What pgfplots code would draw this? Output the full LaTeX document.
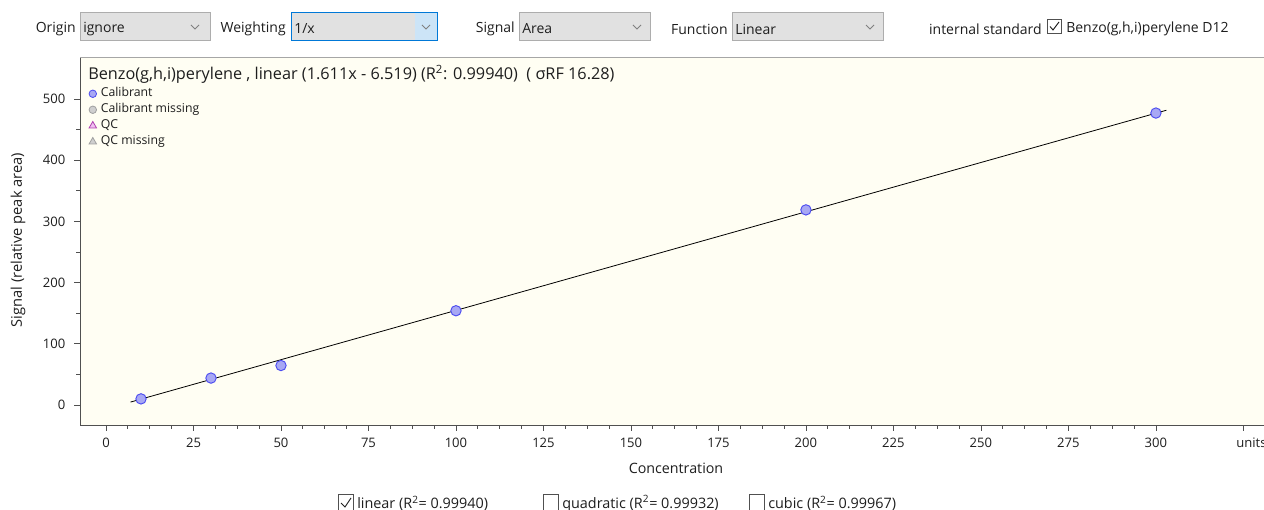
\documentclass[border=0pt]{standalone}
\usepackage{pgfplots}
\pgfplotsset{compat=1.18}
\usepackage{fontspec}
\setmainfont{Open Sans}
\definecolor{plotbg}{HTML}{FFFEF3}
\definecolor{axcol}{HTML}{505050}
\definecolor{txt}{HTML}{1E1E1E}
\definecolor{boxfill}{HTML}{E1E1E1}
\definecolor{boxdraw}{HTML}{ADADAD}
\definecolor{focdraw}{HTML}{0078D7}
\definecolor{focfill}{HTML}{CCE4F7}
\definecolor{calfill}{HTML}{A8A8F4}
\definecolor{caldraw}{HTML}{4C4CF0}
\definecolor{misfill}{HTML}{CFCFCF}
\definecolor{misdraw}{HTML}{A0A0A0}
\definecolor{qcfill}{HTML}{F0C0F0}
\definecolor{qcdraw}{HTML}{B040B0}
\pgfplotstableread{
x y
10 10
30 44
50 64.5
100 154
200 318.8
300 477
}\calib
\pgfplotstableread{
x y
7 4.758
303 481.614
}\fitline
\begin{document}
\begin{tikzpicture}[x=0.75pt,y=0.75pt]
\useasboundingbox (0,0) rectangle (1264,510);
\fill[white] (0,0) rectangle (1264,510);
% ---- top controls ----
\begin{scope}[font=\fontsize{10.5pt}{12pt}\selectfont, text=txt]
\node[anchor=east,inner sep=0] at (76,481) {Origin};
\draw[boxdraw,fill=boxfill] (80.5,469.5) rectangle (210.5,497.5);
\node[anchor=west,inner sep=0] at (83,481) {ignore};
\draw[gray,line width=0.6pt] (191,485) -- (195,481) -- (199,485);
\node[anchor=east,inner sep=0] at (286,481) {Weighting};
\draw[focdraw,fill=boxfill] (291.5,469.5) rectangle (437.5,497.5);
\fill[focfill] (415,470) rectangle (437,497);
\node[anchor=west,inner sep=0] at (294,481) {1/x};
\draw[gray,line width=0.6pt] (422,485) -- (426,481) -- (430,485);
\node[anchor=east,inner sep=0] at (515,481) {Signal};
\draw[boxdraw,fill=boxfill] (519.5,469.5) rectangle (650.5,497.5);
\node[anchor=west,inner sep=0] at (522,481) {Area};
\draw[gray,line width=0.6pt] (633,485) -- (637,481) -- (641,485);
\node[anchor=east,inner sep=0] at (728,481) {Function};
\draw[boxdraw,fill=boxfill] (732.5,469.5) rectangle (883.5,497.5);
\node[anchor=west,inner sep=0] at (735,481) {Linear};
\draw[gray,line width=0.6pt] (866,485) -- (870,481) -- (874,485);
\node[anchor=east,inner sep=0] at (1042,481) {internal standard};
\draw[axcol,fill=white] (1047.5,476.5) rectangle (1061.5,490.5);
\draw[txt,line width=0.7pt] (1050,483.5) -- (1053,480) -- (1059,488);
\node[anchor=west,inner sep=0] at (1066,481) {Benzo(g,h,i)perylene D12};
% bottom checkboxes
\draw[axcol,fill=white] (338.5,-1) rectangle (353.5,15.5);
\draw[txt,line width=0.7pt] (341,7) -- (345,3) -- (351,12);
\node[anchor=west,inner sep=0,font=\fontsize{10.8pt}{12pt}\selectfont] at (357,6.5) {linear (R\textsuperscript{2}= 0.99940)};
\draw[axcol,fill=white] (543.5,-1) rectangle (558.5,15.5);
\node[anchor=west,inner sep=0,font=\fontsize{10.8pt}{12pt}\selectfont] at (562,6.5) {quadratic (R\textsuperscript{2}= 0.99932)};
\draw[axcol,fill=white] (749.5,-1) rectangle (764.5,15.5);
\node[anchor=west,inner sep=0,font=\fontsize{10.8pt}{12pt}\selectfont] at (768,6.5) {cubic (R\textsuperscript{2}= 0.99967)};
\end{scope}
% ---- axis ----
\begin{axis}[
  at={(60pt,63.75pt)}, anchor=south west,
  scale only axis, width=892.5pt, height=276pt,
  xmin=-7.43, xmax=332.6, ymin=-32.68, ymax=568.6,
  axis background/.style={fill=plotbg},
  axis line style={draw=none},
  xtick={0,25,...,300}, xticklabels={0,25,50,75,100,125,150,175,200,225,250,275,300},
  extra x ticks={325}, extra x tick labels={units},
  extra x tick style={xticklabel style={xshift=6pt}},
  ytick={0,100,...,500},
  minor x tick num=3, minor y tick num=1,
  tick align=outside, xtick pos=bottom, ytick pos=left,
  major tick length=4.5pt, minor tick length=3pt,
  tick style={axcol, line width=0.6pt},
  /pgf/number format/assume math mode=true,
  ticklabel style={font=\fontsize{9.8pt}{11pt}\selectfont, text=txt},
  xticklabel style={yshift=-2pt},
  yticklabel style={xshift=-3pt},
  clip=false,
  legend style={at={(0.0074,0.918)}, anchor=north west, draw=none, fill=none,
    font=\fontsize{9.2pt}{10pt}\selectfont, text=txt, inner sep=0pt,
    nodes={inner sep=0.6pt, text height=6.5pt, text depth=1.8pt}, row sep=2.5pt},
  legend cell align=left,
]
\draw[axcol,line width=0.7pt] (rel axis cs:0,0) -- (rel axis cs:0,1);
\draw[axcol,line width=0.7pt] (rel axis cs:0,0) -- (rel axis cs:1,0);
\draw[black!35,line width=0.5pt] (rel axis cs:0,1) -- (rel axis cs:1,1);
\addlegendimage{only marks, mark=*, mark size=2.8pt, mark options={fill=calfill, draw=caldraw, line width=0.6pt}}
\addlegendentry{\hspace{2.6pt}Calibrant}
\addlegendimage{only marks, mark=*, mark size=2.8pt, mark options={fill=misfill, draw=misdraw, line width=0.6pt}}
\addlegendentry{\hspace{2.6pt}Calibrant missing}
\addlegendimage{only marks, mark=triangle*, mark size=3.2pt, mark options={fill=qcfill, draw=qcdraw, line width=0.6pt}}
\addlegendentry{\hspace{2.6pt}QC}
\addlegendimage{only marks, mark=triangle*, mark size=3.2pt, mark options={fill=misfill, draw=misdraw, line width=0.6pt}}
\addlegendentry{\hspace{2.6pt}QC missing}
\addplot[only marks, mark=*, mark size=3.9pt, mark options={fill=calfill, draw=caldraw, line width=0.7pt}, forget plot] table[x=x,y=y] {\calib};
\addplot[black, line width=0.6pt, forget plot] table[x=x,y=y] {\fitline};
\end{axis}
% title and labels
\node[anchor=west,inner sep=0,font=\fontsize{12.2pt}{14pt}\selectfont,text=txt] at (88,436) {Benzo(g,h,i)perylene , linear (1.611x - 6.519) (R\textsuperscript{2}: 0.99940)\ \ ( σRF 16.28)};
\node[rotate=90,inner sep=0,font=\fontsize{11pt}{12pt}\selectfont,text=txt] at (18,270) {Signal (relative peak area)};
\node[inner sep=0,font=\fontsize{10.7pt}{12pt}\selectfont,text=txt] at (676,42) {Concentration};
\end{tikzpicture}
\end{document}
